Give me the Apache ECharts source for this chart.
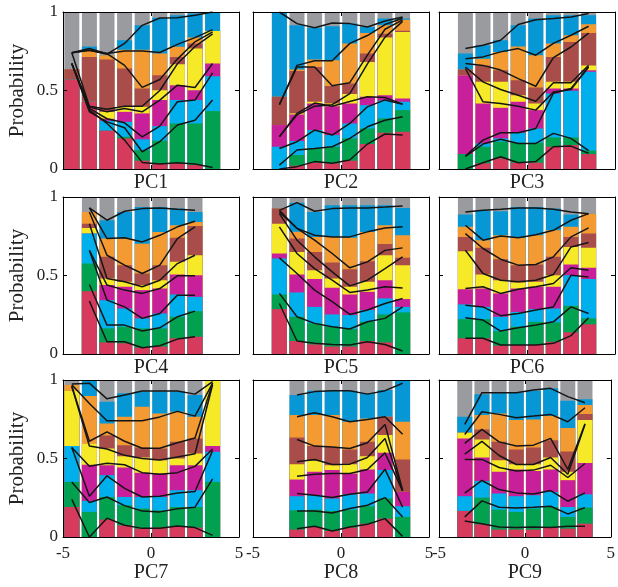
<!DOCTYPE html>
<html><head><meta charset="utf-8">
<script src="https://cdn.jsdelivr.net/npm/echarts@6/dist/echarts.min.js"></script>
<style>html,body{margin:0;padding:0;background:#fff}#c{width:618px;height:587px}</style>
</head><body><div id="c"></div>
<script>
// category colours, bottom to top: red, green, cyan, magenta, yellow, brown, orange, blue, gray
const classColors = ['#d63a5c','#02a14f','#00b0ec','#c8209a','#f6e928','#a84d4a','#f39a32','#0797d5','#9a9b9f'];
const panelNames = ['PC1','PC2','PC3','PC4','PC5','PC6','PC7','PC8','PC9'];
const xTickValues = [-5, 0, 5];
const yTickValues = [0, 0.5, 1];

// Each bar row: cumulative top of red, green, cyan, magenta, yellow, brown, orange, blue (gray fills to 1)
// Each line row: one black curve (cumulative boundary), one value per x position
const pc1X = [-4.5,-3.5,-2.5,-1.5,-0.5,0.5,1.5,2.5,3.5];
const pc1Bars = [
 [.57,.57,.57,.57,.57,.636,.636,.636],
 [.428,.428,.428,.428,.428,.714,.756,.78],
 [.244,.244,.307,.32,.364,.697,.725,.725],
 [.195,.205,.30,.364,.396,.64,.76,.82],
 [.053,.12,.189,.354,.396,.513,.76,.915],
 [.036,.18,.273,.439,.502,.597,.735,.964],
 [.036,.29,.439,.534,.667,.714,.778,.979],
 [.025,.29,.439,.502,.767,.80,.837,.99],
 [0,.369,.591,.672,.879,.879,.879,1]
];
const pc1Lines = [
 [.672,.375,.29,.184,.042,.032,.04,.032,.01],
 [.672,.364,.30,.263,.11,.174,.28,.311,.44],
 [.672,.386,.32,.294,.205,.273,.428,.439,.612],
 [.672,.396,.364,.386,.364,.439,.534,.519,.672],
 [.74,.40,.38,.40,.40,.50,.67,.78,.86],
 [.74,.756,.735,.66,.52,.57,.70,.81,.873],
 [.74,.767,.735,.752,.752,.742,.794,.837,.888],
 [.74,.756,.731,.80,.915,.962,.964,.979,1.0]
];

const pc2X = [-3.5,-2.5,-1.5,-0.5,0.5,1.5,2.5,3.5];
const pc2Bars = [
 [0,0,.142,.28,.28,.46,.46,1],
 [.021,.089,.178,.347,.354,.625,.633,.915],
 [.04,.131,.248,.417,.428,.65,.697,.90],
 [.036,.142,.216,.40,.417,.528,.693,.909],
 [.053,.195,.29,.417,.477,.545,.799,.926],
 [.159,.258,.407,.46,.682,.735,.867,.905],
 [.231,.322,.436,.47,.837,.862,.915,.958],
 [.237,.375,.428,.449,.873,.88,.951,.958]
];
const pc2Lines = [
 [0,.015,.047,.036,.057,.159,.223,.216],
 [.025,.121,.131,.142,.195,.269,.311,.333],
 [.131,.174,.248,.216,.29,.396,.44,.413],
 [.205,.354,.42,.40,.43,.46,.455,.413],
 [.205,.345,.40,.41,.48,.67,.84,.94],
 [.41,.65,.65,.53,.55,.725,.89,.95],
 [.41,.66,.69,.69,.80,.85,.92,.96],
 [1,.926,.90,.93,.926,.905,.943,.968]
];

const pc3X = [-3.5,-2.5,-1.5,-0.5,0.5,1.5,2.5,3.5];
const pc3Bars = [
 [0,.095,.095,.597,.597,.633,.633,.735],
 [.036,.142,.163,.417,.555,.66,.703,.788],
 [.068,.174,.195,.39,.555,.629,.746,.82],
 [.04,.167,.231,.428,.47,.566,.78,.915],
 [.04,.167,.258,.375,.417,.519,.725,.958],
 [.142,.201,.481,.513,.555,.714,.799,.979],
 [.153,.201,.498,.513,.555,.809,.852,.979],
 [.095,.117,.619,.629,.66,.867,.922,.979]
];
const pc3Lines = [
 [0,.04,.078,.04,.047,.142,.146,.10],
 [.08,.159,.189,.163,.163,.227,.195,.117],
 [.083,.184,.231,.231,.258,.483,.513,.65],
 [.64,.428,.417,.40,.375,.49,.506,.65],
 [.65,.555,.506,.47,.432,.549,.549,.66],
 [.672,.66,.63,.576,.527,.71,.777,.866],
 [.703,.714,.746,.767,.725,.80,.852,.909],
 [.767,.788,.82,.92,.951,.958,.968,.99]
];

const pc4X = [-3.5,-2.5,-1.5,-0.5,0.5,1.5,2.5];
const pc4Bars = [
 [.40,.576,.767,.767,.803,.83,.905,.905],
 [.074,.163,.343,.439,.481,.619,.735,.852],
 [.068,.174,.29,.428,.46,.566,.735,.905],
 [.04,.163,.227,.407,.439,.513,.703,.936],
 [.047,.163,.258,.417,.47,.566,.777,.936],
 [.10,.237,.379,.506,.587,.74,.82,.926],
 [.11,.273,.364,.502,.629,.815,.841,.905]
];
const pc4Lines = [
 [.337,.078,.078,.04,.053,.095,.11],
 [.443,.184,.184,.146,.167,.237,.273],
 [.66,.343,.30,.227,.258,.375,.375],
 [.66,.439,.407,.386,.417,.498,.498],
 [.83,.481,.46,.428,.47,.576,.629],
 [.905,.629,.566,.513,.566,.735,.81],
 [.93,.735,.74,.714,.756,.81,.845],
 [.93,.852,.909,.926,.93,.922,.915]
];

const pc5X = [-3.5,-2.5,-1.5,-0.5,0.5,1.5,2.5,3.5];
const pc5Bars = [
 [.286,.379,.608,.64,.83,.926,.926,.926],
 [.083,.237,.392,.506,.65,.735,.778,.964],
 [.061,.195,.30,.477,.534,.65,.746,.905],
 [.047,.174,.252,.422,.481,.583,.746,.947],
 [.047,.159,.248,.379,.428,.54,.74,.947],
 [.083,.205,.28,.396,.46,.59,.777,.947],
 [.074,.252,.354,.47,.629,.70,.82,.947],
 [0,.265,.30,.35,.566,.613,.756,.93]
];
const pc5Lines = [
 [.322,.083,.068,.061,.057,.078,.061,.019],
 [.386,.237,.195,.174,.159,.205,.227,.30],
 [.612,.513,.407,.333,.252,.28,.322,.354],
 [.81,.64,.544,.47,.392,.407,.428,.42],
 [.894,.725,.619,.523,.434,.47,.544,.619],
 [.905,.80,.725,.64,.549,.587,.66,.676],
 [.915,.80,.756,.746,.746,.778,.803,.81],
 [.915,.964,.909,.926,.93,.93,.936,.943]
];

const pc6X = [-3.5,-2.5,-1.5,-0.5,0.5,1.5,2.5,3.5];
const pc6Bars = [
 [.10,.222,.316,.413,.655,.746,.81,.888],
 [.10,.222,.30,.417,.506,.676,.725,.913],
 [.053,.146,.237,.386,.47,.604,.756,.909],
 [.057,.174,.268,.417,.455,.566,.74,.936],
 [.061,.205,.286,.428,.46,.57,.756,.936],
 [.078,.201,.29,.428,.502,.619,.788,.926],
 [.138,.307,.502,.57,.682,.746,.81,.888],
 [.189,.227,.477,.549,.676,.767,.894,.894]
];
const pc6Lines = [
 [.10,.10,.057,.057,.057,.068,.117,.231],
 [.231,.216,.146,.167,.184,.205,.30,.258],
 [.311,.30,.244,.258,.28,.30,.502,.49],
 [.417,.428,.386,.413,.428,.449,.549,.534],
 [.661,.513,.47,.46,.47,.506,.682,.71],
 [.767,.672,.604,.566,.57,.619,.746,.803],
 [.82,.725,.752,.74,.76,.788,.852,.894],
 [.905,.915,.922,.93,.93,.922,.905,.894]
];

const pc7X = [-4.5,-3.5,-2.5,-1.5,-0.5,0.5,1.5,2.5,3.5];
const pc7Bars = [
 [.191,.351,.579,.579,.932,.932,.968,.968],
 [0,.16,.23,.46,.596,.596,.898,1],
 [.111,.255,.394,.457,.564,.647,.723,.862],
 [.074,.202,.255,.443,.515,.585,.766,.915],
 [.053,.181,.255,.409,.506,.57,.83,.926],
 [.06,.17,.255,.404,.489,.564,.787,.926],
 [.064,.191,.298,.457,.5,.606,.798,.926],
 [.06,.191,.298,.457,.532,.628,.766,.904],
 [0,.351,.543,.579,1,1,1,1]
];
const pc7Lines = [
 [.24,.0,.12,.075,.055,.055,.07,.06,.01],
 [.35,.22,.255,.20,.165,.16,.18,.19,.37],
 [.57,.26,.39,.31,.255,.26,.28,.29,.55],
 [.57,.45,.47,.46,.41,.40,.41,.45,.56],
 [.96,.58,.56,.52,.50,.49,.51,.53,.97],
 [.96,.61,.67,.61,.565,.565,.60,.63,.98],
 [.97,.85,.74,.74,.74,.765,.80,.77,.98],
 [.975,.98,.88,.905,.93,.93,.93,.91,.99]
];

const pc8X = [-2.5,-1.5,-0.5,0.5,1.5,2.5,3.5];
const pc8Bars = [
 [.047,.17,.26,.366,.464,.634,.777,.904],
 [.064,.174,.266,.415,.485,.579,.777,.932],
 [.038,.166,.245,.426,.457,.574,.777,.932],
 [.06,.174,.272,.404,.464,.557,.734,.932],
 [.085,.196,.277,.43,.515,.606,.755,.915],
 [.117,.245,.426,.536,.649,.766,.766,.936],
 [0,.128,.196,.287,.287,.494,.734,1]
];
const pc8Lines = [
 [.053,.068,.038,.064,.081,.117,.004],
 [.166,.166,.153,.181,.202,.251,.128],
 [.277,.266,.251,.272,.287,.432,.19],
 [.387,.40,.404,.404,.43,.536,.294],
 [.479,.494,.462,.464,.506,.628,.294],
 [.621,.579,.574,.564,.60,.717,.298],
 [.766,.791,.766,.734,.749,.766,.655],
 [.904,.926,.932,.932,.91,.932,.979]
];

const pc9X = [-3.5,-2.5,-1.5,-0.5,0.5,1.5,2.5,3.5];
const pc9Bars = [
 [.166,.166,.26,.628,.664,.664,.664,.766],
 [.081,.251,.357,.506,.621,.685,.777,.91],
 [.047,.174,.277,.415,.489,.606,.787,.915],
 [.047,.16,.26,.43,.464,.557,.745,.919],
 [.047,.181,.266,.421,.464,.57,.749,.932],
 [.06,.191,.287,.43,.506,.617,.77,.947],
 [.053,.128,.191,.362,.415,.545,.694,.868],
 [.085,.187,.272,.472,.745,.783,.84,.877]
];
const pc9Lines = [
 [.102,.085,.064,.06,.064,.06,.068,.068],
 [.128,.23,.189,.185,.189,.196,.147,.187],
 [.28,.36,.302,.281,.274,.296,.228,.281],
 [.494,.494,.443,.421,.426,.457,.379,.468],
 [.528,.609,.519,.462,.462,.506,.40,.717],
 [.596,.685,.606,.579,.585,.628,.43,.721],
 [.653,.798,.781,.76,.77,.781,.734,.823],
 [.717,.919,.919,.919,.936,.947,.894,.855]
];

const panels = [
 [pc1X,pc1Bars,pc1Lines],[pc2X,pc2Bars,pc2Lines],[pc3X,pc3Bars,pc3Lines],
 [pc4X,pc4Bars,pc4Lines],[pc5X,pc5Bars,pc5Lines],[pc6X,pc6Bars,pc6Lines],
 [pc7X,pc7Bars,pc7Lines],[pc8X,pc8Bars,pc8Lines],[pc9X,pc9Bars,pc9Lines]
];

const FONT = 'Liberation Serif';
const colLeft = [63, 253, 439];
const rowTop = [12, 197, 380];
const W = 176, H = 157;

const grid = [], xAxis = [], yAxis = [], series = [];
panels.forEach((p, i) => {
  const r = Math.floor(i / 3), c = i % 3;
  grid.push({left: colLeft[c], top: rowTop[r], width: W, height: H});
  const xBase = {gridIndex: i, type: 'value', min: -5, max: 5, interval: 5, z: 10,
    axisLine: {show: true, onZero: false, lineStyle: {color: '#000', width: 1}},
    axisTick: {show: true, inside: true, length: 4, lineStyle: {color: '#000'}},
    splitLine: {show: false}};
  const yBase = {gridIndex: i, type: 'value', min: 0, max: 1, interval: 0.5, z: 10,
    axisLine: {show: true, onZero: false, lineStyle: {color: '#000', width: 1}},
    axisTick: {show: true, inside: true, length: 4, lineStyle: {color: '#000'}},
    splitLine: {show: false}};
  xAxis.push(Object.assign({}, xBase, {position: 'bottom',
    axisLabel: {show: r === 2, color: '#222', fontFamily: FONT, fontSize: 17, margin: 8,
      formatter: v => xTickValues.includes(v) ? String(v) : ''},
    name: panelNames[i], nameLocation: 'middle', nameGap: r === 2 ? 25 : 4,
    nameTextStyle: {color: '#222', fontFamily: FONT, fontSize: 20}}));
  xAxis.push(Object.assign({}, xBase, {position: 'top', axisLabel: {show: false}}));
  yAxis.push(Object.assign({}, yBase, {position: 'left',
    axisLabel: {show: c === 0, color: '#222', fontFamily: FONT, fontSize: 17, margin: 5,
      formatter: v => yTickValues.includes(v) ? String(v) : ''},
    name: c === 0 ? 'Probability' : '', nameLocation: 'middle', nameGap: 35, nameRotate: 90,
    nameTextStyle: {color: '#222', fontFamily: FONT, fontSize: 21}}));
  yAxis.push(Object.assign({}, yBase, {position: 'right', axisLabel: {show: false}}));

  const [xs, bars, lines] = p;
  // gray (top) first, then each cumulative level drawn over it, down to red
  series.push({type: 'bar', xAxisIndex: 2*i, yAxisIndex: 2*i, barWidth: 15, barGap: '-100%',
    itemStyle: {color: classColors[8]}, silent: true, z: 2,
    data: xs.map(x => [x, 1])});
  for (let k = 7; k >= 0; k--) {
    series.push({type: 'bar', xAxisIndex: 2*i, yAxisIndex: 2*i, barWidth: 15, barGap: '-100%',
      itemStyle: {color: classColors[k]}, silent: true, z: 2,
      data: xs.map((x, j) => [x, bars[j][k]])});
  }
  lines.forEach(ln => {
    series.push({type: 'line', xAxisIndex: 2*i, yAxisIndex: 2*i, symbol: 'none', silent: true, z: 5,
      lineStyle: {color: '#151515', width: 1.5},
      data: xs.map((x, j) => [x, ln[j]])});
  });
});

const chart = echarts.init(document.getElementById('c'), null, {renderer: 'canvas'});
chart.setOption({animation: false, backgroundColor: '#fff', grid, xAxis, yAxis, series});
</script>
</body></html>
